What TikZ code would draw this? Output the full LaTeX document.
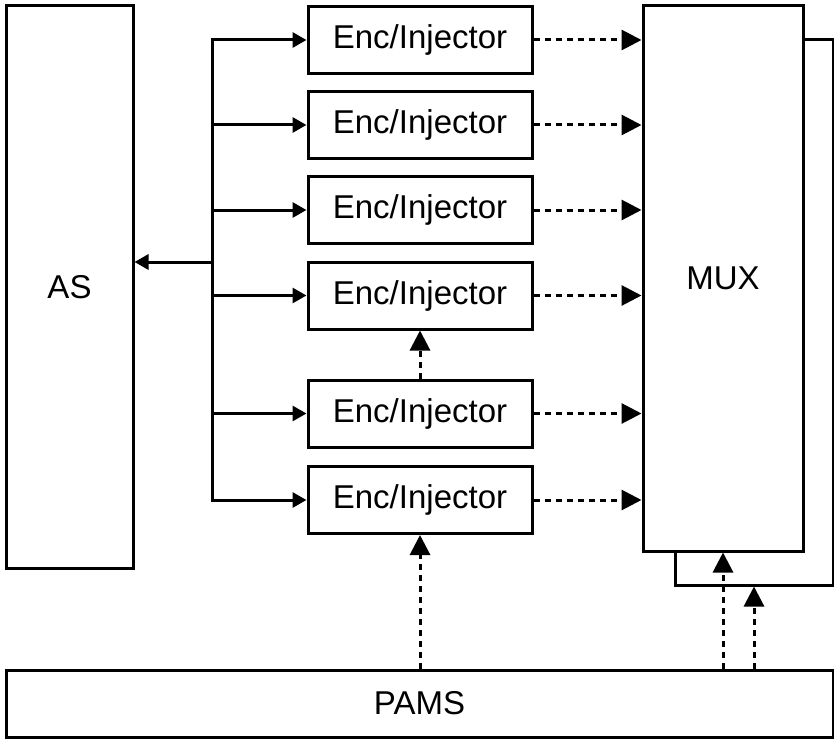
\documentclass[tikz,border=0pt]{standalone}
\usepackage{fontspec}
\setmainfont{Liberation Sans}
\usetikzlibrary{arrows.meta}
\begin{document}
\begin{tikzpicture}[x=1pt,y=-1pt,
  box/.style={draw, line width=3pt, fill=white, inner sep=0pt, font=\fontsize{33}{40}\selectfont},
  enc/.style={box, minimum width=224pt, minimum height=67pt},
  solidarr/.style={line width=3pt, -{Triangle[length=14pt,width=15pt]}},
  dasharr/.style={line width=3pt, dash pattern=on 6pt off 5pt, -{Triangle[length=20pt,width=20pt]}}]
\useasboundingbox (0,0) rectangle (834,738);
% blocks
\node[box, minimum width=127pt, minimum height=562pt] (as) at (69.5,287) {AS};
\node[box, minimum width=158pt, minimum height=545pt] (back) at (754,312.5) {};
\node[box, minimum width=160pt, minimum height=545pt] (mux) at (723,278.5) {MUX};
\node[box, minimum width=827pt, minimum height=67pt] (pams) at (419.5,703.5) {PAMS};
\node[enc] (e1) at (420,40) {Enc/Injector};
\node[enc] (e2) at (420,125) {Enc/Injector};
\node[enc] (e3) at (420,210) {Enc/Injector};
\node[enc] (e4) at (420,295.5) {Enc/Injector};
\node[enc] (e5) at (420,413.5) {Enc/Injector};
\node[enc] (e6) at (420,500) {Enc/Injector};
% branch bus
\coordinate (bt) at (212,40);
\coordinate (bb) at (212,500);
\coordinate (asj) at (212,262);
\draw[line width=3pt, line cap=rect] (bt) -- (bb);
\foreach \e in {e1,e2,e3,e4,e5,e6}
  \draw[solidarr] (\e.west -| bt) -- (\e.west);
\draw[solidarr] (asj) -- (asj -| as.east);
% encoder to mux
\foreach \e in {e1,e2,e3,e4,e5,e6}
  \draw[dasharr] (\e.east) -- (\e.east -| mux.west);
\draw[dasharr] (e5.north) -- (e4.south);
% PAMS
\draw[dasharr] (pams.north -| e6.south) -- (e6.south);
\draw[dasharr] (pams.north -| mux.south) -- (mux.south);
\draw[dasharr] (pams.north -| back.south) -- (back.south);
\end{tikzpicture}
\end{document}
